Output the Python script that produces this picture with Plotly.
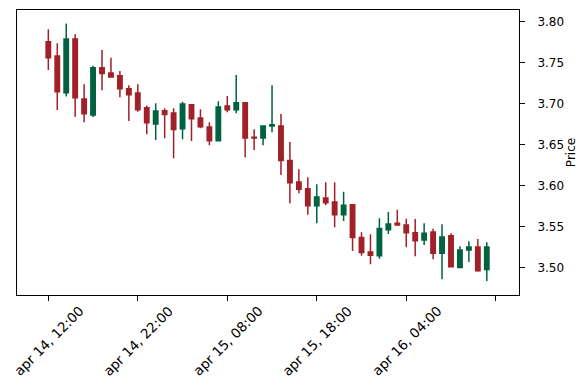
import pandas as pd
import plotly.graph_objects as go

start = "2024-04-14 12:00"
opens = [3.776, 3.7585, 3.7138, 3.7793, 3.706, 3.6866, 3.7443, 3.7378, 3.7345, 3.7187,
         3.7134, 3.6955, 3.6756, 3.6918, 3.689, 3.6699, 3.6991, 3.6829, 3.672, 3.6552,
         3.6976, 3.693, 3.7016, 3.6595, 3.6585, 3.673, 3.6732, 3.6309, 3.6049, 3.5967,
         3.576, 3.5854, 3.5805, 3.565, 3.5772, 3.537, 3.5195, 3.515, 3.5467, 3.5545,
         3.5524, 3.543, 3.5341, 3.5439, 3.5179, 3.5394, 3.5004, 3.522, 3.5256, 3.498]
highs = [3.791, 3.774, 3.798, 3.785, 3.724, 3.7467, 3.7659, 3.7565, 3.7402, 3.7228,
         3.724, 3.698, 3.7009, 3.6948, 3.6948, 3.7028, 3.6995, 3.6935, 3.6777, 3.7033,
         3.7098, 3.7354, 3.7016, 3.6691, 3.6732, 3.7228, 3.6878, 3.6537, 3.6204, 3.6106,
         3.6021, 3.6045, 3.6045, 3.593, 3.5775, 3.5435, 3.5411, 3.5606, 3.5683, 3.5711,
         3.5601, 3.5598, 3.5545, 3.5479, 3.5533, 3.5423, 3.5265, 3.5325, 3.5354, 3.5313]
lows = [3.7415, 3.6927, 3.709, 3.6845, 3.6777, 3.6841, 3.7167, 3.7321, 3.7082, 3.6793,
        3.6906, 3.663, 3.656, 3.6582, 3.6338, 3.657, 3.6549, 3.6704, 3.6496, 3.6552,
        3.6899, 3.6887, 3.635, 3.6439, 3.6496, 3.6655, 3.6134, 3.5789, 3.5911, 3.565,
        3.5545, 3.5765, 3.5496, 3.5573, 3.5207, 3.515, 3.5045, 3.5113, 3.5415, 3.5524,
        3.5252, 3.5143, 3.528, 3.5106, 3.4862, 3.5013, 3.5, 3.5073, 3.4955, 3.4841]
closes = [3.7565, 3.715, 3.7793, 3.7077, 3.6882, 3.7443, 3.737, 3.733, 3.7187, 3.7113,
          3.693, 3.6772, 3.6915, 3.687, 3.6687, 3.700, 3.682, 3.6723, 3.6552, 3.6963,
          3.693, 3.7016, 3.6585, 3.6585, 3.6732, 3.6745, 3.6309, 3.604, 3.596, 3.576,
          3.5866, 3.5796, 3.565, 3.5765, 3.537, 3.5187, 3.5155, 3.548, 3.5537, 3.5525,
          3.543, 3.5333, 3.5423, 3.5179, 3.5378, 3.5016, 3.522, 3.5256, 3.4967, 3.5256]

dates = pd.date_range(start, periods=len(opens), freq="h")
idx = list(range(len(opens)))
tick_idx = [0, 10, 20, 30, 40, 50]
tick_text = [dates[i].strftime("%b %d, %H:%M").lower() if i < len(dates) else "" for i in tick_idx]

UP = "#006340"
DOWN = "#A02128"

fig = go.Figure(go.Candlestick(
    x=idx, open=opens, high=highs, low=lows, close=closes,
    increasing=dict(line=dict(color=UP, width=1.5), fillcolor=UP),
    decreasing=dict(line=dict(color=DOWN, width=1.5), fillcolor=DOWN),
    whiskerwidth=0,
    hoverinfo="skip",
))

# centred, rotated tick labels (matplotlib style)
for t, txt in zip(tick_idx, tick_text):
    if txt:
        fig.add_annotation(
            x=t, xref="x", y=0, yref="paper", yshift=-5,
            text=txt, textangle=-45, showarrow=False,
            xanchor="center", yanchor="top",
            font=dict(family="DejaVu Sans", size=13.5, color="black"),
        )

fig.update_layout(
    width=579, height=382,
    margin=dict(l=9, r=68, t=2, b=95),
    paper_bgcolor="white", plot_bgcolor="white",
    showlegend=False,
    font=dict(family="DejaVu Sans", size=12, color="black"),
    xaxis=dict(
        range=[-3.5, 52.6], rangeslider=dict(visible=False),
        tickmode="array", tickvals=tick_idx, showticklabels=False,
        ticks="outside", ticklen=5, tickcolor="black",
        showline=True, linecolor="black", linewidth=1, mirror=True,
        showgrid=False, zeroline=False,
    ),
    yaxis=dict(
        side="right", range=[3.467, 3.8146],
        tickvals=[3.50, 3.55, 3.60, 3.65, 3.70, 3.75, 3.80],
        tickformat=".2f", ticks="outside", ticklen=5, tickcolor="black",
        ticklabelstandoff=10,
        showline=True, linecolor="black", linewidth=1, mirror=True,
        showgrid=False, zeroline=False, tickfont=dict(size=12),
        title=dict(text="Price", font=dict(size=12), standoff=3),
    ),
)

fig.write_html("out.html")
